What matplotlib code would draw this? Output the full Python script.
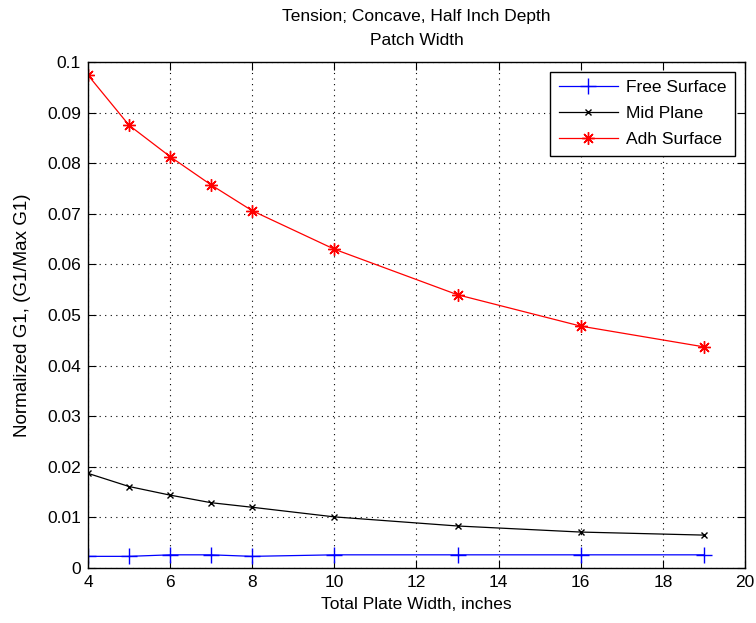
import numpy as np
import matplotlib
matplotlib.use('Agg')
import matplotlib.pyplot as plt

plt.rcParams['font.family'] = ['Liberation Sans', 'DejaVu Sans']

# plate widths (inches) where the values were computed
width = [4, 5, 6, 7, 8, 10, 13, 16, 19]

free_surface = [0.0023, 0.0023, 0.0026, 0.0026, 0.0023, 0.0026, 0.0026, 0.0026, 0.0026]
mid_plane = [0.0187, 0.0161, 0.0144, 0.0129, 0.0120, 0.0101, 0.0083, 0.0071, 0.0065]
adh_surface = [0.0974, 0.0875, 0.0813, 0.0757, 0.0706, 0.0630, 0.0540, 0.0478, 0.0437]

xticks = np.arange(4, 21, 2)
yticks = np.arange(0, 0.101, 0.01)
ytick_labels = ['0', '0.01', '0.02', '0.03', '0.04', '0.05', '0.06', '0.07', '0.08', '0.09', '0.1']

fs = 12.5

fig = plt.figure(figsize=(7.56, 6.23), dpi=100)
ax = fig.add_axes([0.1164, 0.0883, 0.869, 0.8122])

ax.plot(width, free_surface, color='#0000ff', lw=0.9, marker='+', ms=11, mew=1.0,
        label='Free Surface')
ax.plot(width, mid_plane, color='black', lw=0.9, marker='x', ms=5, mew=1.0,
        label='Mid Plane')
ax.plot(width, adh_surface, color='#ff0000', lw=0.9, marker=(8, 2, 0), ms=9, mew=1.0,
        label='Adh Surface')

ax.set_xlim(4, 20)
ax.set_ylim(0, 0.1)
ax.set_xticks(xticks)
ax.set_yticks(yticks)
ax.set_yticklabels(ytick_labels)
ax.tick_params(direction='in', top=True, right=True, length=6, labelsize=fs, pad=5)
ax.grid(True, color='black', linestyle=(0, (1, 4)), linewidth=0.8)
for s in ax.spines.values():
    s.set_linewidth(1.0)

ax.set_xlabel('Total Plate Width, inches', fontsize=fs, labelpad=5)
ax.set_ylabel('Normalized G1, (G1/Max G1)', fontsize=13.5, labelpad=12)
ax.set_title('Tension; Concave, Half Inch Depth\nPatch Width', fontsize=fs,
             linespacing=1.75, pad=12)

leg = ax.legend(loc='upper right', fontsize=fs, fancybox=False, edgecolor='black',
                framealpha=1, handlelength=3.4, borderaxespad=0.55,
                labelspacing=0.62, handletextpad=0.5, borderpad=0.5)
leg.get_frame().set_linewidth(1.0)

fig.savefig('out.png', dpi=100)
